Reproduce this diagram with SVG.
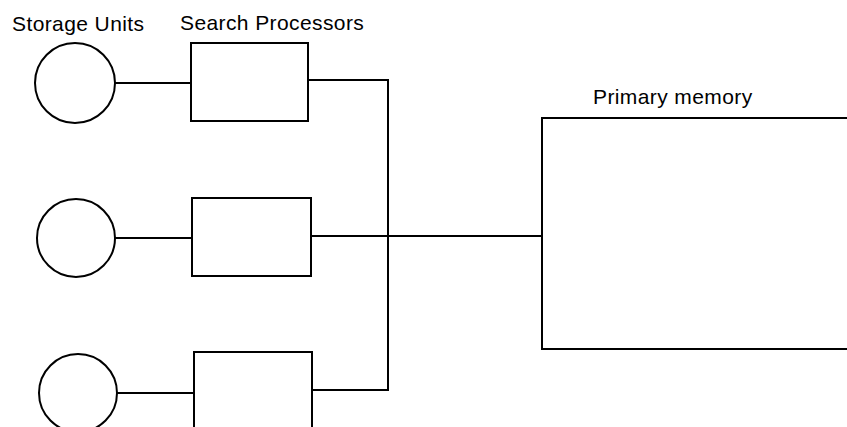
<svg xmlns="http://www.w3.org/2000/svg" width="847" height="427" viewBox="0 0 847 427">
<style>
.s{fill:none;stroke:#000;stroke-width:2}
.t{font-family:"Liberation Sans",Arial,sans-serif;font-size:21px;letter-spacing:0.4px;fill:#000}
</style>
<rect width="847" height="427" fill="#fff"/>
<text class="t" x="12" y="31">Storage Units</text>
<text class="t" x="180" y="30">Search Processors</text>
<g id="su1"><circle class="s" cx="75" cy="83" r="40"/></g>
<g id="su2"><circle class="s" cx="76" cy="238" r="39"/></g>
<g id="su3"><circle class="s" cx="78" cy="393" r="39"/></g>
<g id="sp1"><rect class="s" x="191" y="43" width="117" height="78"/></g>
<g id="sp2"><rect class="s" x="192" y="198" width="119" height="78"/></g>
<g id="sp3"><path class="s" d="M194,430 V352 H312 V430"/></g>
<g id="pm">
<text class="t" x="593" y="104">Primary memory</text>
<path class="s" d="M850,118 H542 V349 H850"/>
</g>
<g id="connectors">
<path class="s" d="M115,83 H191"/>
<path class="s" d="M115,238 H192"/>
<path class="s" d="M117,393 H194"/>
<path class="s" d="M308,80 H388 V390 H312"/>
<path class="s" d="M311,236 H542"/>
</g>
</svg>
